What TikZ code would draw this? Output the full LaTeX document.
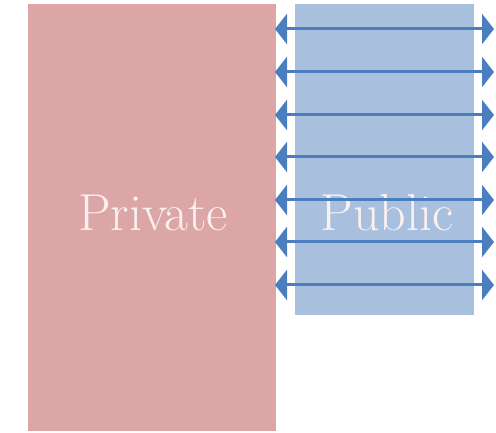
\documentclass[tikz,border=0pt]{standalone}
\usepackage{fontspec}
\usetikzlibrary{arrows.meta}
\definecolor{privfill}{HTML}{DDA6A6}
\definecolor{pubfill}{HTML}{A8C0DE}
\definecolor{linkblue}{HTML}{4A7EBE}
\definecolor{labeltext}{HTML}{FBF0F0}
\tikzset{
  block/.style={draw=none, inner sep=0pt, outer sep=0pt},
  blocklabel/.style={text=labeltext, inner sep=0pt, anchor=base, font=\fontsize{52}{52}\selectfont},
  link/.style={draw=linkblue, line width=3pt, {Triangle[length=12pt,width=30pt]}-{Triangle[length=12pt,width=30pt]}}
}
\begin{document}
\begin{tikzpicture}[x=1pt,y=-1pt]
  \useasboundingbox (0,0) rectangle (496,433);
  % the two zones
  \node[block, fill=privfill, minimum width=248pt, minimum height=427pt, anchor=north west] (private) at (28,4) {};
  \node[block, fill=pubfill, minimum width=179pt, minimum height=311pt, anchor=north west] (public) at (295,4) {};
  \node[blocklabel] (privlabel) at (153,231) {Private};
  \node[blocklabel] (publabel) at (387,231) {Public};
  % exchange links across the public zone
  \foreach \i/\yy in {1/29,2/72,3/115,4/157,5/200,6/242,7/285}{
    \coordinate (l\i) at (275,\yy);
    \coordinate (r\i) at (494,\yy);
    \draw[link] (l\i) -- (r\i);
  }
\end{tikzpicture}
\end{document}
